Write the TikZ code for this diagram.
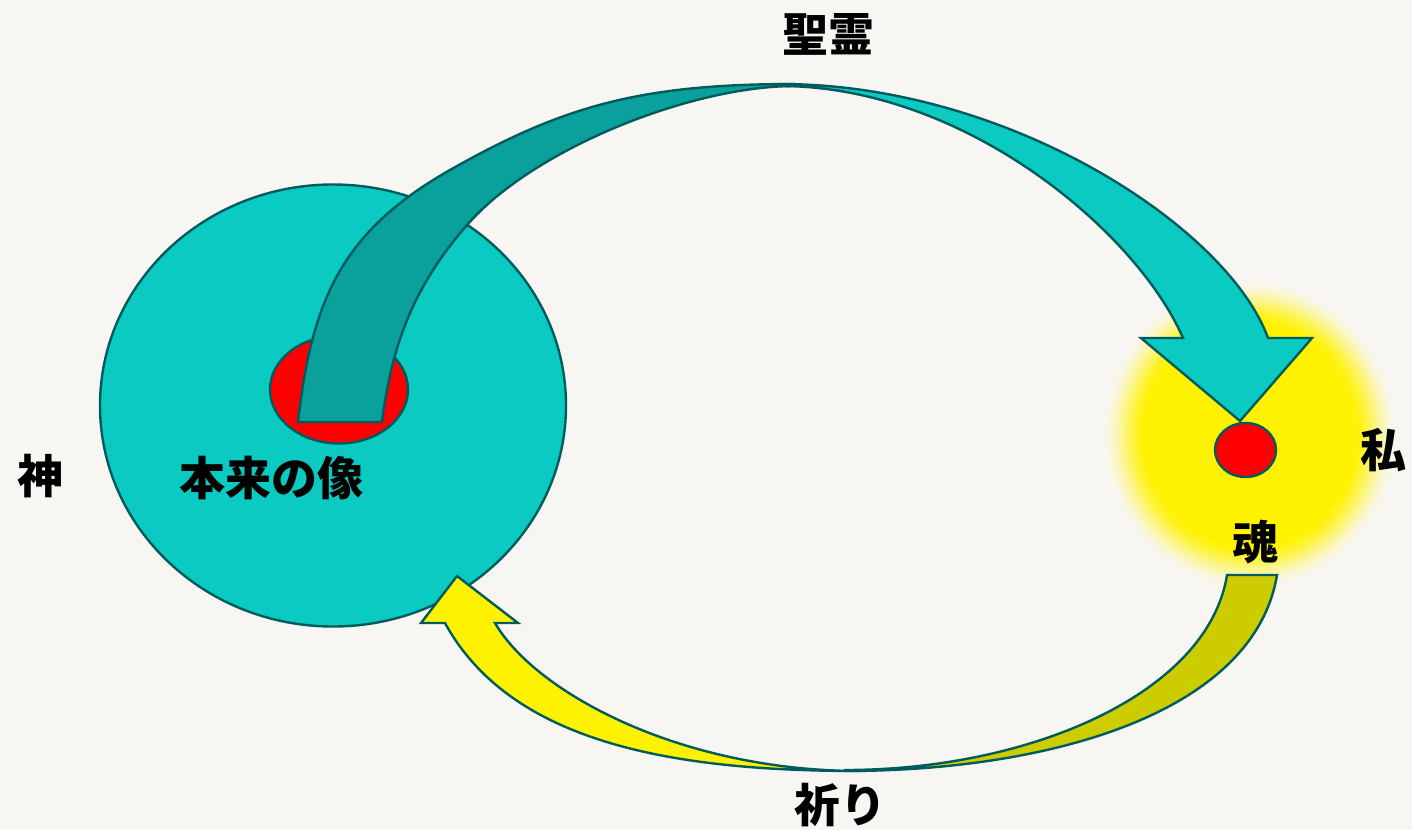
\documentclass[tikz,border=0pt]{standalone}
\usepackage{fontspec}
\newfontfamily\cjk{Noto Sans CJK JP}
\usetikzlibrary{shapes.geometric}
\definecolor{bgc}{RGB}{248,246,243}
\definecolor{tealA}{RGB}{10,202,194}
\definecolor{tealB}{RGB}{10,160,155}
\definecolor{edge}{RGB}{0,92,92}
\definecolor{olive}{RGB}{204,204,0}
\tikzset{
  shape outline/.style={draw=edge, line width=2.4pt},
  label text/.style={font=\cjk\bfseries\fontsize{46}{52}\selectfont, inner sep=0pt, text=black},
}
\begin{document}
\begin{tikzpicture}[x=1pt,y=-1pt]
\useasboundingbox (0,0) rectangle (1412,830);
\fill[bgc] (0,0) rectangle (1412,830);
% glow around soul (stepped soft halo)
\foreach \i in {0,...,44}{
  \pgfmathsetmacro{\rx}{150-\i*1.5}
  \pgfmathsetmacro{\ry}{157-\i*1.5}
  \pgfmathsetmacro{\t}{min(1,\i/32)}
  \pgfmathsetmacro{\p}{100*(\t*\t*(3-2*\t))}
  \fill[yellow!\p!bgc] (1250,435) ellipse ({\rx pt} and {\ry pt});
}
% God circle
\node[ellipse, shape outline, fill=tealA, minimum width=466pt, minimum height=442pt, inner sep=0pt] (god) at (333,405.5) {};
\node[ellipse, shape outline, fill=red, minimum width=138pt, minimum height=108pt, inner sep=0pt] (image) at (339,389.5) {};
% top arrow: back (dark) part
\filldraw[shape outline, fill=tealB]
  (298,422) .. controls (312,300) and (341,232) .. (450,170)
  .. controls (563,106) and (640,84) .. (795,84)
  -- (795,86) .. controls (690,86) and (532.6,149.5) .. (467,225)
  .. controls (414.5,285.4) and (392,343) .. (382,422)
  -- cycle;
% top arrow: front (light) part with head
\filldraw[shape outline, fill=tealA]
  (780,84) .. controls (1010,84) and (1228,228) .. (1268,338)
  -- (1312,338) -- (1240,421) -- (1141,338) -- (1183,338)
  .. controls (1137,232) and (965,86) .. (780,86)
  -- cycle;
% soul
\node[ellipse, shape outline, fill=red, minimum width=61pt, minimum height=54pt, inner sep=0pt] (soulc) at (1245.5,450) {};
% bottom arrow: back (olive) part
\filldraw[shape outline, fill=olive]
  (1277,575) .. controls (1254,713) and (1050,771) .. (845,771)
  -- (845,770) .. controls (1030,770) and (1208,693.4) .. (1227,575)
  -- cycle;
% bottom arrow: front (yellow) part with head
\filldraw[shape outline, fill=yellow]
  (860,771) .. controls (680,771) and (512.2,745.8) .. (445,623)
  -- (421,623) -- (457,576) -- (518,623) -- (495,623)
  .. controls (535.2,692.2) and (680,771) .. (860,771)
  -- cycle;
% labels
\node[label text] (spirit) at (828,34) {聖霊};
\node[label text] (god label) at (40,476) {神};
\node[label text] (image label) at (271,478) {本来の像};
\node[label text] (me) at (1383,450) {私};
\node[label text] (soul) at (1255,542) {魂};
\node[label text] (prayer) at (840,805) {祈り};
\end{tikzpicture}
\end{document}
